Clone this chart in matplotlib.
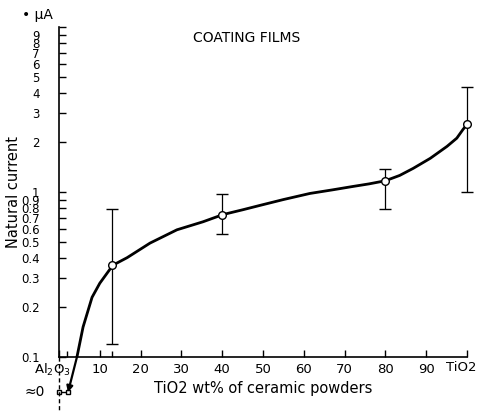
import matplotlib.pyplot as plt
from matplotlib.ticker import FixedLocator, FixedFormatter, NullFormatter

# TiO2 content (wt%) of the ceramic powders and measured natural current (uA)
tio2_pct = [13, 40, 80, 100]
current = [0.36, 0.73, 1.17, 2.57]
err_low = [0.12, 0.56, 0.79, 1.0]
err_high = [0.79, 0.97, 1.37, 4.3]

# hand-fitted trend curve
curve_x = [4.4, 5.9, 8.1, 10.0, 13.2, 16.7, 22.3, 28.9, 35.3, 40.2, 45.0,
           49.3, 55.0, 61.5, 67.0, 72.0, 76.0, 80.0, 83.5, 86.8, 91.0, 95.1,
           97.5, 99.0, 100.0]
curve_y = [0.1, 0.152, 0.23, 0.28, 0.36, 0.40, 0.49, 0.59, 0.66, 0.73, 0.78,
           0.83, 0.90, 0.98, 1.03, 1.08, 1.12, 1.17, 1.26, 1.39, 1.6, 1.89,
           2.12, 2.39, 2.57]

# pure Al2O3 end: current is practically zero
al2o3_x = [0, 2.2]
al2o3_y = [0.061, 0.061]

x_ticks = [0, 10, 20, 30, 40, 50, 60, 70, 80, 90, 100]
x_labels = ["", "10", "20", "30", "40", "50", "60", "70", "80", "90", ""]
y_ticks = [0.1, 0.2, 0.3, 0.4, 0.5, 0.6, 0.7, 0.8, 0.9,
           1, 2, 3, 4, 5, 6, 7, 8, 9, 10]
y_labels = ["0.1", "0.2", "0.3", "0.4", "0.5", "0.6", "0.7", "0.8", "0.9",
            "1", "2", "3", "4", "5", "6", "7", "8", "9", ""]

plt.rcParams["font.family"] = "DejaVu Sans"

fig = plt.figure(figsize=(4.8, 4.12), dpi=100)
ax = fig.add_axes([59 / 480, 55 / 412, 408 / 480, 330 / 412])
ax.set_yscale("log")
ax.set_xlim(0, 100)
ax.set_ylim(0.1, 10)

ax.plot(curve_x, curve_y, color="black", lw=2.0, solid_capstyle="round",
        solid_joinstyle="round")
eb = ax.errorbar(tio2_pct, current,
                 yerr=[[c - lo for c, lo in zip(current, err_low)],
                       [hi - c for c, hi in zip(current, err_high)]],
                 fmt="o", color="black", mfc="white", mec="black", ms=5.5,
                 mew=1.0, elinewidth=0.9, capsize=4.5, capthick=1.0, zorder=3)
for artist in eb.lines[1] + eb.lines[2] + (eb.lines[0],):
    artist.set_clip_on(False)

# below the axis: arrow down to the Al2O3 value
ax.annotate("", xy=(al2o3_x[1], al2o3_y[1]), xytext=(curve_x[0], curve_y[0]),
            arrowprops=dict(arrowstyle="-|>", color="black", lw=1.6,
                            mutation_scale=9, shrinkA=0, shrinkB=0),
            annotation_clip=False)
ax.plot(al2o3_x, al2o3_y, color="black", lw=1.0, marker="s", ms=3.5,
        mfc="white", mec="black", clip_on=False)
ax.plot([0, 0], [0.1, 0.046], color="black", lw=1.0, ls=(0, (3, 2)),
        clip_on=False)
ax.text(-3.5, 0.061, "≈0", ha="right", va="center", fontsize=10)
ax.text(2.8, 0.094, "Al$_2$O$_3$", ha="right", va="top", fontsize=9.5)
ax.text(98.5, 0.094, "TiO2", ha="center", va="top", fontsize=9.5)

for side in ["top", "right"]:
    ax.spines[side].set_visible(False)
ax.spines["left"].set_linewidth(1.2)
ax.spines["bottom"].set_linewidth(1.2)

ax.xaxis.set_major_locator(FixedLocator(x_ticks))
ax.xaxis.set_major_formatter(FixedFormatter(x_labels))
ax.xaxis.set_minor_locator(FixedLocator([2, 13]))
ax.yaxis.set_major_locator(FixedLocator(y_ticks))
ax.yaxis.set_major_formatter(FixedFormatter(y_labels))
ax.yaxis.set_minor_formatter(NullFormatter())
ax.yaxis.set_minor_locator(FixedLocator([]))
ax.tick_params(axis="x", which="major", direction="in", length=5, width=1,
               pad=4, labelsize=9.5)
ax.tick_params(axis="x", which="minor", direction="in", length=4, width=1)
ax.tick_params(axis="y", direction="in", length=5, width=1, pad=14,
               labelsize=8.5)

ax.set_xlabel("TiO2 wt% of ceramic powders", fontsize=10.5, labelpad=4)
ax.set_ylabel("Natural current", fontsize=10.5)
ax.yaxis.set_label_coords(-38 / 408, 0.5)
fig.text(247 / 480, 1 - 38 / 412, "COATING FILMS", ha="center", va="center",
         fontsize=10)
fig.text(22 / 480, 1 - 15 / 412, "• µA", ha="left", va="center", fontsize=10)

fig.savefig("out.png", dpi=100)
